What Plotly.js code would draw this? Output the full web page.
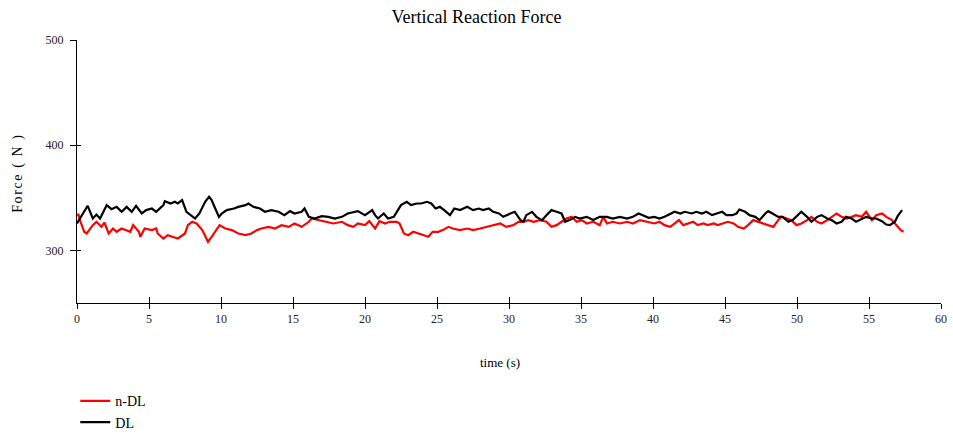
<!DOCTYPE html>
<html>
<head>
<meta charset="utf-8">
<script src="https://cdn.plot.ly/plotly-3.0.1.min.js"></script>
<style>html,body{margin:0;padding:0;background:#fff;}#chart{width:953px;height:434px;}</style>
</head>
<body>
<div id="chart"></div>
<script>
// ---- data ----
var seriesNames = ["n-DL", "DL"];

var timeNDL = [0, 0.1, 0.25, 0.5, 0.67, 0.9, 1.1, 1.35, 1.7, 1.9, 2.2, 2.5, 2.75, 3.1, 3.45, 3.7, 3.9, 4.3, 4.4, 4.7,
  5.2, 5.5, 5.6, 6.0, 6.3, 6.6, 7.0, 7.5, 7.7, 8.0, 8.3, 8.7, 9.0, 9.1, 9.35, 9.7, 9.9, 10.3, 10.75, 11.2,
  11.7, 12.1, 12.5, 12.8, 13.3, 13.75, 14.2, 14.7, 15.1, 15.6, 16.1, 16.3, 16.8, 17.2, 17.8, 18.4, 18.8, 19.2, 19.5, 20.0,
  20.3, 20.7, 21.0, 21.4, 21.7, 22.2, 22.4, 22.7, 23.0, 23.35, 23.7, 24.05, 24.4, 24.7, 25.1, 25.4, 25.8, 26.1, 26.6, 27.1,
  27.5, 28.0, 28.45, 28.9, 29.4, 29.8, 30.3, 30.65, 31.0, 31.35, 31.7, 32.15, 32.6, 32.95, 33.3, 33.65, 34.0, 34.35, 34.7, 35.05,
  35.4, 35.85, 36.3, 36.55, 36.8, 37.2, 37.7, 38.2, 38.6, 39.1, 39.6,
  40.1, 40.45, 40.8, 41.2, 41.5, 41.8, 42.1, 42.45, 42.8, 43.1, 43.5, 43.8, 44.2, 44.5, 44.9, 45.2, 45.6, 45.9, 46.3, 46.6,
  46.96, 47.3, 47.7, 48.0, 48.35, 48.7, 48.9, 49.3, 49.6, 49.97, 50.3, 50.7, 51.0, 51.4, 51.7, 52.1, 52.4, 52.75, 53.1, 53.45,
  53.8, 54.1, 54.5, 54.8, 55.2, 55.5, 55.9, 56.2, 56.6, 56.9, 57.2, 57.4];
var forceNDL = [333.5, 334.1, 327.2, 317.7, 316.1, 320.8, 324.0, 327.2, 322.4, 326.5, 316.1, 320.8, 317.7, 320.8, 319.3, 317.7, 324.0, 317.7, 312.9, 320.8,
  319.3, 320.8, 316.1, 311.3, 314.5, 312.9, 311.3, 316.1, 324.0, 327.2, 325.6, 319.3, 309.8, 308.2, 312.9, 320.8, 324.0, 320.8, 319.3, 316.1,
  314.5, 316.1, 319.3, 320.8, 322.4, 320.8, 324.0, 322.4, 325.6, 322.4, 327.2, 330.3, 328.8, 327.2, 325.6, 327.2, 324.0, 322.4, 325.6, 324.0,
  327.8, 320.8, 327.8, 325.6, 327.2, 327.2, 325.6, 316.1, 314.5, 317.7, 316.1, 314.5, 312.9, 317.7, 317.7, 319.3, 322.4, 320.8, 319.3, 320.8,
  319.3, 320.8, 322.4, 324.0, 325.6, 322.4, 324.0, 327.2, 327.2, 328.8, 327.2, 328.8, 327.2, 322.4, 324.0, 327.2, 330.3, 331.9, 327.2, 328.8,
  325.6, 327.2, 324.0, 331.9, 325.6, 327.2, 325.6, 327.2, 325.6, 328.8, 327.2,
  325.6, 327.2, 324.0, 322.4, 325.6, 328.8, 324.0, 325.6, 327.2, 324.0, 325.6, 324.0, 325.6, 324.0, 325.6, 327.2, 325.6, 322.4, 320.8, 324.0,
  328.8, 327.2, 325.6, 324.0, 322.4, 328.8, 331.9, 330.3, 328.8, 324.0, 325.6, 328.8, 331.9, 327.2, 325.6, 328.8, 331.9, 335.1, 331.9, 330.3,
  331.9, 333.5, 331.9, 336.7, 328.8, 333.5, 335.1, 331.9, 328.8, 324.0, 319.3, 317.7];

var timeDL = [0, 0.74, 1.1, 1.35, 1.6, 2.06, 2.4, 2.75, 3.1, 3.45, 3.8, 4.1, 4.5, 4.8, 5.2, 5.5, 6.0, 6.1, 6.5, 6.8,
  7.0, 7.3, 7.6, 8.0, 8.2, 8.5, 8.9, 9.17, 9.35, 9.6, 9.86, 10.05, 10.4, 10.9, 11.2, 11.7, 11.9, 12.25, 12.7, 13.05,
  13.5, 14.0, 14.4, 14.8, 15.1, 15.6, 15.8, 16.1, 16.5, 17.0, 17.45, 17.9, 18.4, 18.8, 19.5, 20.0,
  20.5, 20.7, 20.9, 21.3, 21.6, 22.0, 22.2, 22.5, 22.9, 23.2, 23.6, 23.9, 24.3, 24.6, 24.9, 25.2, 25.5, 25.9, 26.2, 26.6,
  27.1, 27.5, 27.9, 28.2, 28.6, 28.9, 29.3, 29.6, 30.1, 30.4, 30.8, 31.0, 31.2, 31.6, 31.9, 32.3, 32.6, 32.95, 33.3, 33.65,
  33.9, 34.2, 34.6, 34.9, 35.4, 35.85, 36.3, 36.8, 37.2, 37.7, 38.2, 38.6, 39.0, 39.3, 39.7,
  40.1, 40.45, 40.8, 41.2, 41.5, 41.9, 42.2, 42.7, 43.0, 43.4, 43.7, 44.1, 44.4, 44.8, 45.1, 45.5, 45.8, 46.0, 46.4, 46.7,
  47.1, 47.4, 47.8, 48.0, 48.3, 48.7, 49.0, 49.4, 49.7, 50.1, 50.3, 50.7, 51.0, 51.4, 51.7, 52.1, 52.4, 52.75, 53.1, 53.4,
  53.8, 54.1, 54.5, 54.8, 55.2, 55.5, 55.9, 56.2, 56.45, 56.8, 57.0, 57.3];
var forceDL = [325.6, 342.4, 330.3, 334.1, 330.3, 343.0, 339.2, 341.4, 336.7, 341.4, 336.7, 342.4, 335.1, 338.3, 339.8, 336.7, 343.0, 346.8, 344.6, 346.2,
  344.6, 347.8, 336.7, 331.9, 330.3, 335.1, 346.2, 350.9, 347.8, 339.8, 331.9, 335.1, 338.3, 339.8, 341.4, 343.0, 344.6, 341.4, 339.8, 336.7,
  338.3, 336.7, 333.5, 337.3, 335.1, 336.7, 339.8, 331.9, 330.3, 332.6, 331.9, 330.3, 331.9, 335.1, 337.3, 333.5,
  338.3, 333.5, 330.3, 335.1, 330.3, 331.9, 336.7, 343.0, 346.2, 343.0, 344.6, 344.6, 346.2, 344.6, 339.8, 341.4, 338.3, 333.5, 339.8, 338.3,
  341.4, 338.3, 339.8, 338.3, 339.8, 336.7, 335.1, 331.9, 335.1, 336.7, 328.8, 327.2, 333.5, 336.7, 331.9, 328.8, 333.5, 338.3, 336.7, 335.1,
  327.2, 328.8, 331.9, 330.3, 331.9, 328.8, 331.9, 331.9, 330.3, 331.9, 330.3, 331.9, 335.1, 333.5, 331.0,
  331.9, 330.3, 331.9, 335.1, 336.7, 335.1, 336.7, 335.1, 336.7, 335.1, 336.7, 333.5, 335.1, 336.7, 333.5, 333.5, 335.1, 338.9, 336.7, 333.5,
  331.9, 328.8, 335.1, 337.3, 335.1, 331.9, 331.9, 327.2, 328.8, 333.5, 336.7, 331.9, 327.2, 331.9, 333.5, 330.3, 328.8, 325.6, 327.2, 331.9,
  330.3, 327.2, 330.3, 331.9, 330.3, 330.3, 327.8, 324.6, 324.0, 327.2, 332.9, 338.3];

var xTicks = [0, 5, 10, 15, 20, 25, 30, 35, 40, 45, 50, 55, 60];
var yTicks = [300, 400, 500];
var xRange = [0, 60];
var yRange = [250, 500];

var serif = "Liberation Serif, Times New Roman, serif";

var traces = [
  {x: timeNDL, y: forceNDL, name: seriesNames[0], type: "scatter", mode: "lines",
   line: {color: "#ff0000", width: 2.2}},
  {x: timeDL, y: forceDL, name: seriesNames[1], type: "scatter", mode: "lines",
   line: {color: "#000000", width: 2.2}},
  {x: [], y: [], xaxis: "x2", yaxis: "y2", showlegend: false, hoverinfo: "skip", type: "scatter", mode: "lines"}
];

var layout = {
  width: 953, height: 434,
  margin: {l: 77, r: 12, t: 40, b: 131, autoexpand: false},
  paper_bgcolor: "#ffffff", plot_bgcolor: "#ffffff",
  font: {family: serif, size: 12, color: "#222"},
  title: {text: "Vertical Reaction Force", font: {family: serif, size: 18, color: "#000"},
          xref: "container", x: 0.5, xanchor: "center", yref: "container", y: 0.962, yanchor: "middle"},
  showlegend: true,
  legend: {x: -0.002, xanchor: "left", y: -0.313, yanchor: "top", bgcolor: "rgba(0,0,0,0)",
           font: {family: serif, size: 14, color: "#000"}, tracegroupgap: 0, traceorder: "normal"},
  xaxis: {range: xRange, tickvals: xTicks, ticktext: xTicks.map(String), showgrid: false, zeroline: false,
          showline: true, linecolor: "#000", linewidth: 1, ticks: "outside", ticklen: 5, tickcolor: "#000",
          tickfont: {family: serif, size: 12, color: "#222222"}, fixedrange: true},
  yaxis: {range: yRange, tickvals: yTicks, ticktext: yTicks.map(String), showgrid: false, zeroline: false,
          showline: true, linecolor: "#000", linewidth: 1, ticks: "outside", ticklen: 6, tickcolor: "#000",
          ticklabelstandoff: 4,
          tickfont: {family: serif, size: 12, color: "#222222"}, fixedrange: true},
  xaxis2: {overlaying: "x", anchor: "y2", range: xRange, tickvals: xTicks, showticklabels: false, showgrid: false,
           zeroline: false, showline: false, ticks: "inside", ticklen: 6, tickcolor: "#000", fixedrange: true},
  yaxis2: {overlaying: "y", anchor: "x2", side: "left", range: yRange, tickvals: yTicks, showticklabels: false,
           showgrid: false, zeroline: false, showline: false, ticks: "inside", ticklen: 4, tickcolor: "#000", fixedrange: true},
  annotations: [
    {text: "Force ( N )", xref: "paper", yref: "paper", x: (18 - 77) / 864, y: (303 - 173) / 263,
     xanchor: "center", yanchor: "middle", textangle: -90, showarrow: false,
     font: {family: serif, size: 14, color: "#000"}},
    {text: "time (s)", xref: "paper", yref: "paper", x: (500 - 77) / 864, y: (303 - 362) / 263,
     xanchor: "center", yanchor: "middle", showarrow: false,
     font: {family: serif, size: 13, color: "#000"}}
  ]
};

Plotly.newPlot("chart", traces, layout, {displayModeBar: false, staticPlot: true}).then(function () {
  var notes = document.querySelectorAll("#chart .annotation-text");
  if (notes.length) { notes[0].style.letterSpacing = "1.6px"; }
});
</script>
</body>
</html>
